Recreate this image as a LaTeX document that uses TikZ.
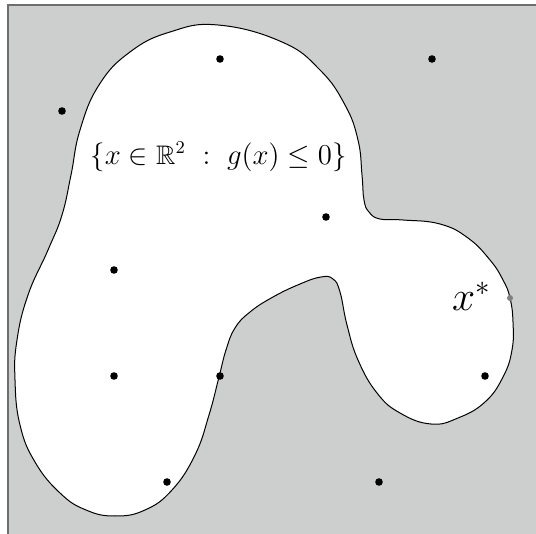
\documentclass[tikz,border=0pt]{standalone}
\usepackage{amssymb}
\usetikzlibrary{positioning}
\tikzset{
  dom/.style={x=0.5pt,y=-0.5pt},
  pt/.style={circle,fill=black,inner sep=0pt,minimum size=3.8pt},
  optpt/.style={circle,fill=gray,inner sep=0pt,minimum size=3pt},
  feas/.style={fill=white,draw=black,line width=0.5pt},
}
\definecolor{outside}{RGB}{205,207,206}
\definecolor{frame}{RGB}{110,110,110}

\begin{document}
\begin{tikzpicture}[dom]
  \useasboundingbox (0,0) rectangle (536,534);
  \clip (0,0) rectangle (536,534);
  \fill[outside] (8,5) rectangle (545,545);
  \draw[frame,line width=0.8pt] (8,545) -- (8,5) -- (545,5);
  % feasible set
  \draw[feas] plot[smooth cycle,tension=0.75] coordinates {
    (218,25) (282,42) (320,70) (345,105) (358,140) (362,175) (364,200)
    (369,212) (380,219) (403,220) (440,224) (468,238) (490,260) (503,280)
    (510,298) (513,322) (512,350) (503,377) (485,402) (458,418) (431,424)
    (400,413) (377,393) (358,360) (347,325) (340,292) (333,279) (321,277)
    (300,284) (273,297) (250,312) (235,328) (226,350) (219,377)
    (209,415) (195,455) (172,490) (145,510) (115,516) (86,510) (60,493)
    (35,462) (20,425) (15,380) (17,340) (28,295) (48,250)
    (62,215) (71,175) (80,130) (99,85) (130,52) (170,32)};
  % sample points
  \node[pt] (p1) at (220,59) {};
  \node[pt] (p2) at (432,59) {};
  \node[pt] (p3) at (62,111) {};
  \node[pt] (p4) at (326,217) {};
  \node[pt] (p5) at (114,270) {};
  \node[pt] (p6) at (114,376) {};
  \node[pt] (p7) at (220,376) {};
  \node[pt] (p8) at (485,376) {};
  \node[pt] (p9) at (167,482) {};
  \node[pt] (p10) at (379,482) {};
  \node[optpt] (xs) at (510,298) {};
  \node[anchor=east,inner sep=0pt,font=\fontsize{19.5}{22}\selectfont] (xlab) at (491,296) {$x^*$};
  \node[font=\fontsize{13.4}{16}\selectfont] (set) at (218.5,157) {$\{x\in\mathbb{R}^2\ :\ g(x)\leq 0\}$};
\end{tikzpicture}
\end{document}
